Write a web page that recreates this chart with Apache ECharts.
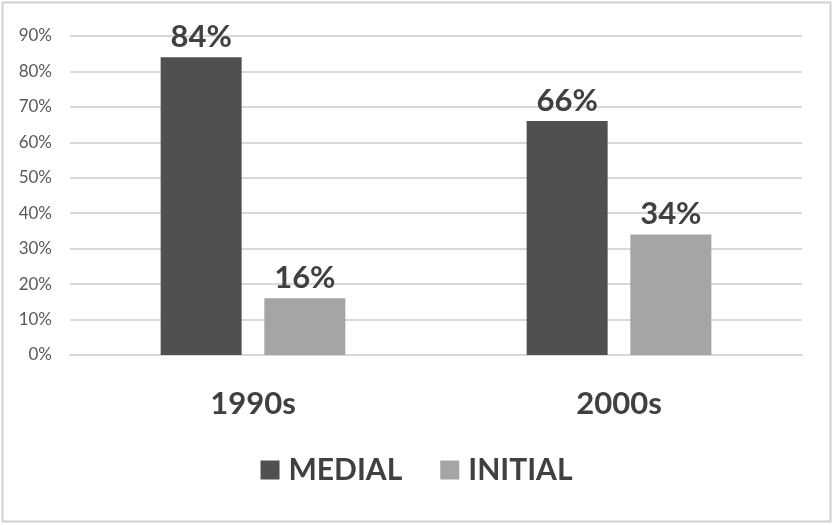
<!DOCTYPE html>
<html><head><meta charset="utf-8">
<script src="https://cdn.jsdelivr.net/npm/echarts@6/dist/echarts.min.js"></script>
<style>html,body{margin:0;padding:0;background:#fff}#c{width:833px;height:525px}</style>
</head><body><div id="c"></div>
<script>
const categories = ['1990s', '2000s'];
const seriesNames = ['MEDIAL', 'INITIAL'];
const medial = [84, 66];
const initial = [16, 34];
const FONT = 'Lato, "Open Sans", sans-serif';
const chart = echarts.init(document.getElementById('c'), null, {renderer: 'canvas'});
const lbl = {show: true, position: 'top', distance: 5, formatter: p => p.value + '%', fontFamily: FONT, fontWeight: 'bold', fontSize: 31, color: '#404040'};
chart.setOption({
  backgroundColor: '#fff',
  animation: false,
  graphic: [{type: 'rect', shape: {x: 2.5, y: 2.5, width: 828, height: 519}, style: {fill: 'none', stroke: '#d0d0d0', lineWidth: 2}, silent: true}],
  grid: {left: 70, right: 31, top: 36, bottom: 170, containLabel: false},
  legend: {
    data: seriesNames, bottom: 35, left: 'center', itemWidth: 19, itemHeight: 19, itemGap: 38,
    icon: 'rect',
    textStyle: {fontFamily: FONT, fontWeight: 'bold', fontSize: 30, color: '#404040', padding: [0,0,0,4]}
  },
  xAxis: {
    type: 'category', data: categories,
    axisLine: {show: true, lineStyle: {color: '#d9d9d9', width: 2}},
    axisTick: {show: false},
    axisLabel: {margin: 33, fontFamily: FONT, fontWeight: 'bold', fontSize: 31, color: '#404040'}
  },
  yAxis: {
    type: 'value', min: 0, max: 90, interval: 10,
    axisLine: {show: false}, axisTick: {show: false},
    axisLabel: {formatter: '{value}%', margin: 18, fontFamily: FONT, fontSize: 17, color: '#595959'},
    splitLine: {lineStyle: {color: '#d9d9d9', width: 2}}
  },
  series: [
    {name: 'MEDIAL', type: 'bar', data: medial, barWidth: 81, barGap: '28%', itemStyle: {color: '#505050'}, label: lbl},
    {name: 'INITIAL', type: 'bar', data: initial, barWidth: 81, itemStyle: {color: '#a5a5a5'}, label: lbl}
  ]
});
</script></body></html>
